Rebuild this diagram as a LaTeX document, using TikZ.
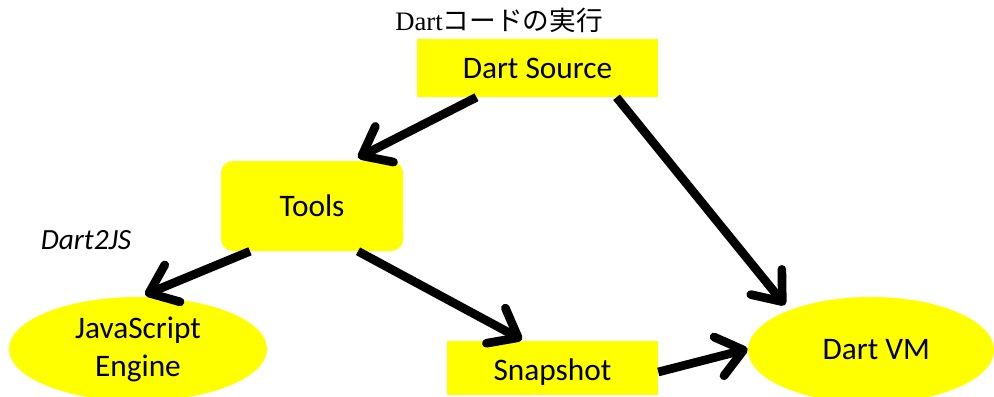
\documentclass[tikz,border=0pt]{standalone}
\usepackage{fontspec}
\setmainfont{Carlito}
\newfontfamily\titleserif{Liberation Serif}
\newfontfamily\jpfont{Noto Sans CJK JP}
\usetikzlibrary{arrows.meta,shapes.geometric,calc}
\definecolor{boxyellow}{HTML}{FFFF00}
\tikzset{
  boxfill/.style={fill=boxyellow, draw=none, inner sep=0pt, font=\fontsize{23.5}{28.5}\selectfont, align=center},
  rectbox/.style={boxfill, rectangle},
  ellbox/.style={boxfill, ellipse},
  flow/.style={line width=6.5pt, -{Straight Barb[length=19pt, width=30pt, line cap=round, line join=round]}}
}
\begin{document}
\begin{tikzpicture}[x=0.75pt, y=-0.75pt]
\useasboundingbox (0,0) rectangle (994,396);
\node[font=\fontsize{20}{24}\selectfont, inner sep=0pt] (title) at (499,20) {\titleserif Dart\jpfont コードの実行};
\node[rectbox, minimum width=180.75pt, minimum height=43.5pt] (src) at (537.5,68) {Dart Source};
\node[rectbox, rounded corners=9pt, minimum width=136.5pt, minimum height=67.5pt] (tools) at (312,206) {Tools};
\node[rectbox, minimum width=158.25pt, minimum height=40.5pt, text depth=0pt] (snap) at (552.5,368) {\raisebox{-3pt}{Snapshot}};
\node[ellbox, minimum width=193.5pt, minimum height=78pt] (js) at (138,349) {JavaScript\\Engine};
\node[ellbox, minimum width=184.5pt, minimum height=79.5pt] (vm) at (871,350) {\hspace{8pt}Dart VM};
\node[font=\fontsize{22}{26}\selectfont\itshape, inner sep=0pt] (d2js) at (86,240) {Dart2JS};
\draw[flow] ($(src.south)+(-61,0)$) -- ($(tools.north)+(46,-3)$);
\draw[flow] ($(src.south)+(79,0)$) -- ($(vm.center)+(-86,-45)$);
\draw[flow] ($(tools.south)+(-62,0)$) -- ($(js.north)+(7,-2)$);
\draw[flow] ($(tools.south)+(46,0)$) -- ($(snap.north)+(-30.5,-1)$);
\draw[flow] ($(snap.east)+(0,4)$) -- ($(vm.west)+(0,-1)$);
\end{tikzpicture}
\end{document}
